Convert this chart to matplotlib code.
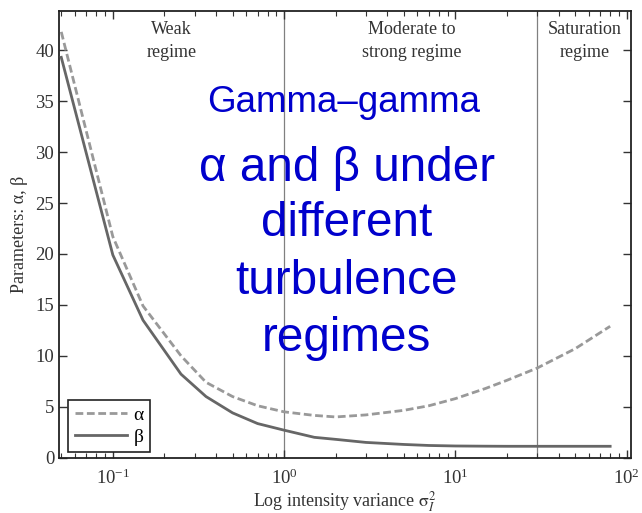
import numpy as np
import matplotlib
matplotlib.use("Agg")
import matplotlib.pyplot as plt

plt.rcParams['font.family'] = 'serif'
plt.rcParams['font.serif'] = ['Liberation Serif', 'DejaVu Serif']
plt.rcParams['mathtext.fontset'] = 'stix'

# log intensity variance samples
sigma2 = [0.05, 0.1, 0.15, 0.25, 0.35, 0.5, 0.7, 1, 1.5, 2, 3, 5, 7, 10, 15, 20, 30, 50, 80]
alpha = [41.8, 21.7, 14.9, 10.0, 7.4, 6.0, 5.1, 4.5, 4.15, 4.0, 4.2, 4.65, 5.1, 5.8, 6.8, 7.6, 8.8, 10.7, 12.9]
beta = [39.3, 19.9, 13.5, 8.2, 6.0, 4.4, 3.35, 2.7, 2.0, 1.8, 1.5, 1.3, 1.2, 1.15, 1.13, 1.12, 1.12, 1.12, 1.12]

regime_edges = [1, 30]
regime_labels = ["Weak\nregime", "Moderate to\nstrong regime", "Saturation\nregime"]
regime_pos = [0.22, 5.57, 57]

fig = plt.figure(figsize=(6.42, 5.13), dpi=100)
ax = fig.add_axes([0.0919, 0.1078, 0.8911, 0.8698])

for e in regime_edges:
    ax.axvline(e, color='#808080', lw=0.9, zorder=1)

ax.plot(sigma2, alpha, color='#999999', lw=2.0, ls=(0, (2.8, 1.3)), label='\u03b1', zorder=3)
ax.plot(sigma2, beta, color='#666666', lw=2.0, label='\u03b2', zorder=3)

ax.set_xscale('log')
ax.set_xlim(0.0485, 106)
ax.set_ylim(0, 43.8)
ax.set_yticks(np.arange(0, 45, 5))
ax.tick_params(which='both', direction='in', top=True, right=True, labelsize=13.5, colors='#333333')
ax.tick_params(which='major', length=6, width=1)
ax.tick_params(which='minor', length=3.5, width=0.8)
ax.tick_params(axis='x', pad=8)
for s in ax.spines.values():
    s.set_linewidth(1.3)
    s.set_color('#222222')

ax.set_xlabel(r'Log intensity variance $\mathrm{\sigma}_I^2$', fontsize=13, color='#333333', labelpad=1)
ax.set_ylabel('Parameters: \u03b1, \u03b2', fontsize=13, color='#333333', labelpad=5)

for lbl, xp in zip(regime_labels, regime_pos):
    ax.text(xp, 42.9, lbl, ha='center', va='top', fontsize=13, color='#333333', linespacing=1.5)

leg = ax.legend(loc='lower left', bbox_to_anchor=(0.016, 0.012), borderaxespad=0, fontsize=14,
                handlelength=2.7, fancybox=False, framealpha=1, edgecolor='#222222', borderpad=0.35,
                labelspacing=0.2, handletextpad=0.3)
leg.get_frame().set_linewidth(1.2)

blue = '#0000CC'
fig.text(0.535, 0.800, 'Gamma\u2013gamma', ha='center', va='center', fontsize=26.5, color=blue,
         family='Liberation Sans')
title_lines = ['\u03b1 and \u03b2 under', 'different', 'turbulence', 'regimes']
title_y = [0.672, 0.564, 0.452, 0.341]
for t, yy in zip(title_lines, title_y):
    fig.text(0.540, yy, t, ha='center', va='center', fontsize=34.3, color=blue, family='Liberation Sans')

fig.savefig('out.png', dpi=100)
